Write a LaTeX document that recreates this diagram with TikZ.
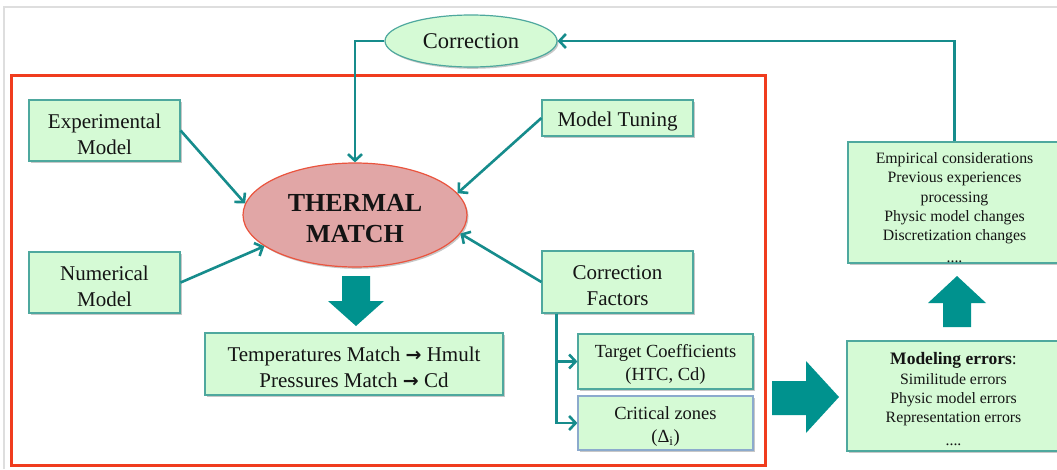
\documentclass[tikz,border=0pt]{standalone}
\usepackage{fontspec}
\setmainfont{Liberation Serif}
\newfontfamily\arrowfont{DejaVu Sans}
\usetikzlibrary{arrows.meta,shapes.geometric,shadows}
\definecolor{boxfill}{RGB}{213,250,213}
\definecolor{boxline}{RGB}{78,168,158}
\definecolor{connc}{RGB}{22,140,140}
\definecolor{bigarrow}{RGB}{0,146,142}
\definecolor{thermfill}{RGB}{225,166,166}
\definecolor{thermline}{RGB}{234,84,62}
\definecolor{framered}{RGB}{240,60,30}
\definecolor{critline}{RGB}{140,170,205}
\definecolor{textc}{RGB}{20,20,20}
\newcommand{\harrow}{{\arrowfont\bfseries\fontsize{19}{26}\selectfont →}}
\newcommand{\lift}[1]{\rule{0pt}{#1}}
\begin{document}
\begin{tikzpicture}[x=1pt,y=-1pt,
  shad/.style={drop shadow={shadow xshift=1.5pt,shadow yshift=-1.8pt,fill=black,opacity=0.22}},
  box/.style={draw=boxline,fill=boxfill,line width=1.2pt,align=center,inner sep=0pt,
    text=textc,font=\fontsize{21}{26}\selectfont,shad},
  smallbox/.style={box,font=\fontsize{18.5}{23}\selectfont},
  listbox/.style={box,font=\fontsize{15.8}{19.2}\selectfont},
  link/.style={draw=connc,line width=2.6pt,-{Straight Barb[length=6.5pt,width=14pt]}},
  blockarrow/.style={fill=bigarrow}]
\useasboundingbox (0,0) rectangle (1057,469);
\fill[white] (0,0) rectangle (1057,469);
% outer light frame
\draw[black!13,line width=2pt] (4,469) -- (4,7) -- (1057,7);
% red frame
\draw[framered,line width=3pt] (11,75) rectangle (765,465);

% nodes
\node[ellipse,draw=boxline,fill=boxfill,line width=1.2pt,minimum width=172pt,minimum height=52pt,
  inner sep=0pt,text=textc,font=\fontsize{22.5}{26}\selectfont,shad] (corr) at (471,41) {Correction};
\node[ellipse,draw=thermline,fill=thermfill,line width=1.2pt,minimum width=224pt,minimum height=104pt,
  inner sep=0pt,align=center,text=textc,font=\fontsize{26}{31}\selectfont\bfseries,shad] (thermal) at (355,215) {\lift{25pt}THERMAL\\MATCH};
\node[box,minimum width=151pt,minimum height=61pt] (exp) at (104.5,130.5) {\lift{21.5pt}Experimental\\Model};
\node[box,minimum width=151pt,minimum height=61pt] (num) at (104.5,282.5) {\lift{21.5pt}Numerical\\Model};
\node[box,minimum width=151pt,minimum height=36pt] (tune) at (617.5,118) {\lift{21.5pt}Model Tuning};
\node[box,minimum width=151pt,minimum height=62pt] (cf) at (617.5,282) {\lift{21.5pt}Correction\\Factors};
\node[box,minimum width=298pt,minimum height=62pt] (temp) at (354,364) {\lift{21.5pt}Temperatures Match \harrow\ Hmult\\Pressures Match \harrow\ Cd};
\node[smallbox,minimum width=175pt,minimum height=55pt] (target) at (665.5,361.5) {\lift{19.8pt}Target Coefficients\\(HTC, Cd)};
\node[smallbox,draw=critline,minimum width=175pt,minimum height=54pt] (crit) at (665.5,423) {\lift{19.8pt}Critical zones\\(Δ\textsubscript{i})};
\node[listbox,minimum width=213pt,minimum height=110pt] (moderr) at (953.5,396)
  {\lift{19pt}{\fontsize{17.5}{19.2}\selectfont\textbf{Modeling errors}:}\\Similitude errors\\Physic model errors\\Representation errors\\[4pt]....};
\node[listbox,minimum width=213pt,minimum height=121pt] (empir) at (954.5,202.5)
  {\lift{21.5pt}Empirical considerations\\Previous experiences\\processing\\Physic model changes\\Discretization changes\\[3pt]....};

% connectors
\draw[link] (exp.east) -- (thermal.174);
\draw[link] (num.east) -- (thermal.199);
\draw[link] (tune.west) -- (thermal.12);
\draw[link] (cf.west) -- (thermal.350);
\draw[link] (corr.west) -| (thermal.north);
\draw[link] (empir.north) |- (corr.east);
\draw[link] ([xshift=15pt]cf.south west) |- (target.west);
\draw[link] ([xshift=15pt]cf.south west) |- (crit.west);

% block arrows
\fill[blockarrow] (342,276) -- (370,276) -- (370,301) -- (384,301) -- (356,326) -- (328,301) -- (342,301) -- cycle;
\fill[blockarrow] (772,381) -- (806,381) -- (806,361) -- (839,397) -- (806,433) -- (806,415) -- (772,415) -- cycle;
\fill[blockarrow] (943,327) -- (943,303) -- (928,303) -- (957,276) -- (986,303) -- (971,303) -- (971,327) -- cycle;
\end{tikzpicture}
\end{document}
